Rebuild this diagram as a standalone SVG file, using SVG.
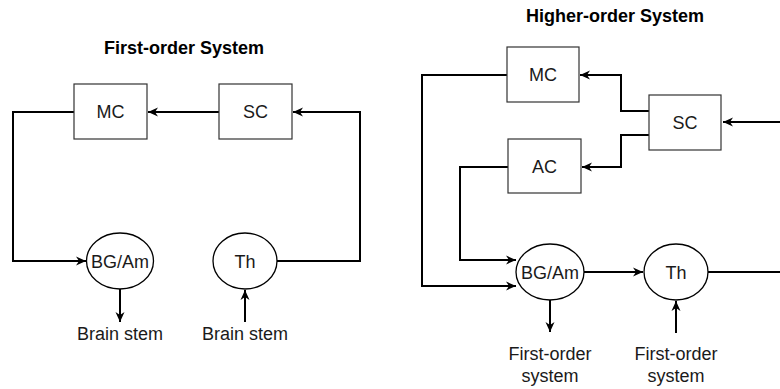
<svg xmlns="http://www.w3.org/2000/svg" width="780" height="389" viewBox="0 0 780 389">
<style>
.box{fill:#fff;stroke:#333;stroke-width:1.2}
.ell{fill:#fff;stroke:#000;stroke-width:1.3}
.lbl{font-family:"Liberation Sans",Arial,sans-serif;font-size:18px;fill:#1a1a1a;text-anchor:middle}
.ttl{font-family:"Liberation Sans",Arial,sans-serif;font-size:18px;font-weight:bold;fill:#000;text-anchor:middle}
.ln{fill:none;stroke:#000;stroke-width:2}
.arr{marker-end:url(#ah)}
</style>
<defs>
<marker id="ah" markerUnits="userSpaceOnUse" markerWidth="12" markerHeight="10" refX="10" refY="5" orient="auto">
<path d="M0,0.5 L10,5 L0,9.5 L3,5 Z" fill="#000"/>
</marker>
</defs>
<rect width="780" height="389" fill="#fff"/>
<g id="titles">
<text class="ttl" x="184" y="54">First-order System</text>
<text class="ttl" x="615" y="22">Higher-order System</text>
</g>
<g id="connectors">
<!-- left system -->
<path class="ln arr" d="M219,112 H148"/>
<path class="ln arr" d="M277,261 H360 V112 H293"/>
<path class="ln arr" d="M74,112 H13 V261 H86"/>
<path class="ln arr" d="M120,289 V322"/>
<path class="ln arr" d="M245,322 V290"/>
<!-- right system -->
<path class="ln arr" d="M649,111 H621 V75 H580"/>
<path class="ln arr" d="M649,135 H621 V167 H582"/>
<path class="ln arr" d="M780,122 H723"/>
<path class="ln arr" d="M507,75 H422 V286 H516"/>
<path class="ln arr" d="M508,167 H460 V260 H516"/>
<path class="ln arr" d="M584,272 H643"/>
<path class="ln" d="M708,272 H780"/>
<path class="ln arr" d="M550,300 V332"/>
<path class="ln arr" d="M676,333 V301"/>
</g>
<g id="L-MC"><rect class="box" x="74" y="84" width="73" height="55"/><text class="lbl" x="110.5" y="118">MC</text></g>
<g id="L-SC"><rect class="box" x="219" y="84" width="73" height="55"/><text class="lbl" x="255.5" y="118">SC</text></g>
<g id="L-BGAm"><ellipse class="ell" cx="120" cy="261" rx="33.5" ry="28"/><text class="lbl" x="120" y="267.5">BG/Am</text></g>
<g id="L-Th"><ellipse class="ell" cx="245" cy="261" rx="32" ry="28"/><text class="lbl" x="245" y="267.5">Th</text></g>
<g id="L-BS1"><text class="lbl" x="120" y="340">Brain stem</text></g>
<g id="L-BS2"><text class="lbl" x="245" y="340">Brain stem</text></g>
<g id="R-MC"><rect class="box" x="507" y="47" width="72" height="55"/><text class="lbl" x="543" y="81">MC</text></g>
<g id="R-SC"><rect class="box" x="649" y="95" width="72" height="55"/><text class="lbl" x="685" y="129">SC</text></g>
<g id="R-AC"><rect class="box" x="508" y="139" width="73" height="54"/><text class="lbl" x="544.5" y="172.5">AC</text></g>
<g id="R-BGAm"><ellipse class="ell" cx="550" cy="272" rx="34" ry="28"/><text class="lbl" x="550" y="278.5">BG/Am</text></g>
<g id="R-Th"><ellipse class="ell" cx="676" cy="272" rx="32" ry="28"/><text class="lbl" x="676" y="278.5">Th</text></g>
<g id="R-FO1"><text class="lbl" x="550" y="360">First-order</text><text class="lbl" x="550" y="382">system</text></g>
<g id="R-FO2"><text class="lbl" x="676" y="360">First-order</text><text class="lbl" x="676" y="382">system</text></g>
</svg>
